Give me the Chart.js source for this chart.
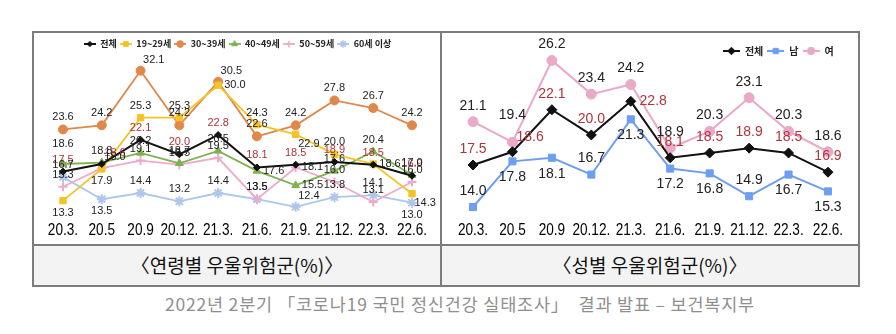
<!DOCTYPE html>
<html><head><meta charset="utf-8">
<script src="https://cdn.jsdelivr.net/npm/chart.js@4.4.1/dist/chart.umd.min.js"></script>
<style>
html,body{margin:0;padding:0;background:#fff;}
#wrap{position:relative;width:896px;height:334px;overflow:hidden;font-family:"Noto Sans CJK KR","Noto Sans",sans-serif;}
.ln{position:absolute;background:#7c7c7c;}
.cap{position:absolute;top:245px;height:40px;line-height:40px;text-align:center;font-size:19px;color:#111;background:#f3f3f3;white-space:nowrap;}
#foot{position:absolute;top:291px;left:0;width:920px;text-align:center;font-size:17.5px;letter-spacing:0.8px;color:#8f8f8f;white-space:pre;}
canvas{position:absolute;}
</style></head>
<body>
<div id="wrap">
  <div class="cap" style="left:34px;width:406px;">〈연령별 우울위험군(%)〉</div>
  <div class="cap" style="left:442px;width:416px;">〈성별 우울위험군(%)〉</div>
  <div class="ln" style="left:32px;top:31px;width:828px;height:2px;"></div>
  <div class="ln" style="left:32px;top:244px;width:828px;height:1.5px;"></div>
  <div class="ln" style="left:32px;top:285px;width:828px;height:1.5px;"></div>
  <div class="ln" style="left:32px;top:31px;width:1.5px;height:256px;"></div>
  <div class="ln" style="left:440px;top:31px;width:1.5px;height:256px;"></div>
  <div class="ln" style="left:858px;top:31px;width:1.5px;height:256px;"></div>
  <canvas id="c1" width="406" height="218" style="left:34px;top:26px;"></canvas>
  <canvas id="c2" width="416" height="218" style="left:442px;top:26px;"></canvas>
  <div id="foot">2022년 2분기 「코로나19 국민 정신건강 실태조사」  결과 발표 – 보건복지부</div>
</div>
<script>
// ---------- data ----------
const periods   = ['20.3.','20.5','20.9','20.12.','21.3.','21.6.','21.9.','21.12.','22.3.','22.6.'];
const total     = [17.5,18.6,22.1,20.0,22.8,18.1,18.5,18.9,18.5,16.9];
const age19_29  = [13.3,17.9,25.3,25.3,30.0,24.3,22.9,20.0,18.6,14.3];
const age30_39  = [23.6,24.2,32.1,24.2,30.5,22.6,24.2,27.8,26.7,24.2];
const age40_49  = [18.6,18.8,20.2,18.7,20.5,17.6,15.5,17.6,20.4,17.0];
const age50_59  = [15.3,18.0,19.1,18.5,19.5,13.5,18.1,16.0,13.1,16.0];
const age60plus = [16.7,13.5,14.4,13.2,14.4,13.5,12.4,13.8,14.1,13.0];
const male      = [14.0,17.8,18.1,16.7,21.3,17.2,16.8,14.9,16.7,15.3];
const female    = [21.1,19.4,26.2,23.4,24.2,18.9,20.3,23.1,20.3,18.6];
const ageNames  = ['전체','19~29세','30~39세','40~49세','50~59세','60세 이상'];
const sexNames  = ['전체','남','여\u2003'];

// ---------- label placement (style, separate from data) ----------
const posTotalL = ['a','ar','a','a','a','a','a','a','a','a'];
const pos19     = ['b','b','a','a','r','a','br','a','r','br'];
const pos30     = ['a','a','ar','a','ar','a','a','a','a','a'];
const pos40     = ['aa','a','a','a','a','r','r','a','a','a'];
const pos50     = ['a','ar','a','a','a','a','r','a','a','a'];
const pos60     = ['a','b','a','a','a','a','ar','a','a','b'];
const posTotalR = ['a','ar','a','a','r','a','a','a','a','a'];
const posMale   = ['a','b','b','a','b','b','b','a','b','b'];
const posFemale = ['a','aa','a','a','a','a','a','a','a','a'];

const RED = '#b0343a';

function icon(color, style, r, lw, w){
  const c = document.createElement('canvas');
  c.width = w; c.height = 10;
  const x = c.getContext('2d');
  x.strokeStyle = color; x.fillStyle = color; x.lineWidth = lw;
  x.beginPath(); x.moveTo(0,5); x.lineTo(w,5); x.stroke();
  x.lineWidth = (style === 'cross' || style === 'star') ? 1.6 : 1;
  Chart.helpers.drawPoint(x, {pointStyle: style, radius: r, borderWidth: x.lineWidth, rotation: 0}, w/2, 5);
  return c;
}

// value labels next to each point
const valueLabels = {
  id: 'valueLabels',
  afterDatasetsDraw(chart, args, opts) {
    const ctx = chart.ctx;
    const d = opts.dist;
    const off = {a:[0,-d], aa:[0,-d*1.7], b:[0,d], r:[d*1.4,0], l:[-d*1.4,0], ar:[d*1.1,-d*0.9], br:[d*1.1,d*0.8]};
    chart.data.datasets.forEach((ds, i) => {
      const meta = chart.getDatasetMeta(i);
      ctx.save();
      ctx.font = opts.font;
      ctx.fillStyle = ds.labelColor;
      ctx.textAlign = 'center';
      ctx.textBaseline = 'middle';
      meta.data.forEach((pt, j) => {
        const o = off[(ds.labelPos || [])[j] || 'a'];
        ctx.fillText(ds.data[j].toFixed(1), pt.x + o[0], pt.y + o[1]);
      });
      ctx.restore();
    });
  }
};

// condensed category labels, placed at the x scale's own tick positions
const narrowTicks = {
  id: 'narrowTicks',
  afterDraw(chart, args, opts) {
    const ctx = chart.ctx, xs = chart.scales.x;
    ctx.save();
    ctx.font = opts.font;
    ctx.fillStyle = '#000';
    ctx.textAlign = 'center';
    ctx.textBaseline = 'middle';
    const y = chart.chartArea.bottom + opts.gap;
    xs.ticks.forEach((t, i) => {
      const x = xs.getPixelForTick(i);
      ctx.save();
      ctx.translate(x, y);
      ctx.scale(opts.sx, 1);
      ctx.fillText(xs.getLabelForValue(t.value), 0, 0);
      ctx.restore();
    });
    ctx.restore();
  }
};

function ds(label, data, color, style, r, lw, labelPos, labelColor, iconW){
  return {
    label, data, borderColor: color, backgroundColor: color,
    pointStyle: style, pointRadius: r, pointBorderWidth: (style==='cross'||style==='star') ? 2 : 1,
    pointBackgroundColor: color, pointBorderColor: color,
    borderWidth: lw, tension: 0, clip: false,
    labelPos, labelColor,
    legendIcon: icon(color, style, Math.min(r*0.75, 4), lw, iconW)
  };
}

function makeChart(id, datasets, yMin, yMax, pad, legendOpts, labelOpts){
  return new Chart(document.getElementById(id), {
    type: 'line',
    data: { labels: periods, datasets },
    options: {
      responsive: false, animation: false,
      layout: { padding: pad },
      scales: {
        x: {
          offset: true,
          grid: { display: false, drawTicks: false },
          border: { display: false },
          ticks: { display: false, autoSkip: false, maxRotation: 0 }
        },
        y: { display: false, min: yMin, max: yMax }
      },
      plugins: {
        tooltip: { enabled: false },
        legend: {
          position: 'top',
          align: legendOpts.align,
          labels: {
            usePointStyle: true, pointStyleWidth: legendOpts.iconW, boxHeight: 10,
            padding: legendOpts.padding, color: '#222',
            font: { family: '"Noto Sans CJK KR",sans-serif', size: legendOpts.size, weight: 'bold' },
            generateLabels: (chart) => chart.data.datasets.map((d, i) => ({
              text: d.label, pointStyle: d.legendIcon, fillStyle: d.borderColor,
              strokeStyle: d.borderColor, lineWidth: 0, hidden: false, datasetIndex: i, fontColor: '#222'
            }))
          }
        },
        valueLabels: labelOpts,
        narrowTicks: { font: '17px "Liberation Sans",Arial,sans-serif', sx: 0.8, gap: 13.5 }
      }
    },
    plugins: [valueLabels, narrowTicks]
  });
}

// left chart (by age)
makeChart('c1', [
  ds(ageNames[0], total,     '#111111', 'rectRot',  3.5, 2,   posTotalL, RED,    12),
  ds(ageNames[1], age19_29,  '#f6c325', 'rect',     4.5, 1.8, pos19,     '#222', 12),
  ds(ageNames[2], age30_39,  '#e0874a', 'circle',   4.5, 1.8, pos30,     '#222', 12),
  ds(ageNames[3], age40_49,  '#7cb24e', 'triangle', 4.5, 1.8, pos40,     '#222', 12),
  ds(ageNames[4], age50_59,  '#eeaacb', 'cross',    4.5, 1.8, pos50,     '#222', 12),
  ds(ageNames[5], age60plus, '#adc6ec', 'star',     5,   1.8, pos60,     '#222', 12)
], 11.0, 33.87, {left: 9.6, right: 8.6, top: 10.5, bottom: 27.5},
  {align: 'center', iconW: 12, padding: 3, size: 9},
  {font: '11px "Liberation Sans",Arial,sans-serif', dist: 12});

// right chart (by sex)
makeChart('c2', [
  ds(sexNames[0], total,  '#111111', 'rectRot', 5,   2,   posTotalR, RED,    17),
  ds(sexNames[1], male,   '#6d9ef0', 'rect',    5,   2,   posMale,   '#222', 17),
  ds(sexNames[2], female, '#eaa9c6', 'circle',  5,   2,   posFemale, '#222', 17)
], 13.21, 25.74, {left: 11.3, right: 10.3, top: 16, bottom: 27.5},
  {align: 'end', iconW: 17, padding: 4, size: 10},
  {font: '14px "Liberation Sans",Arial,sans-serif', dist: 16});
</script>
</body></html>
